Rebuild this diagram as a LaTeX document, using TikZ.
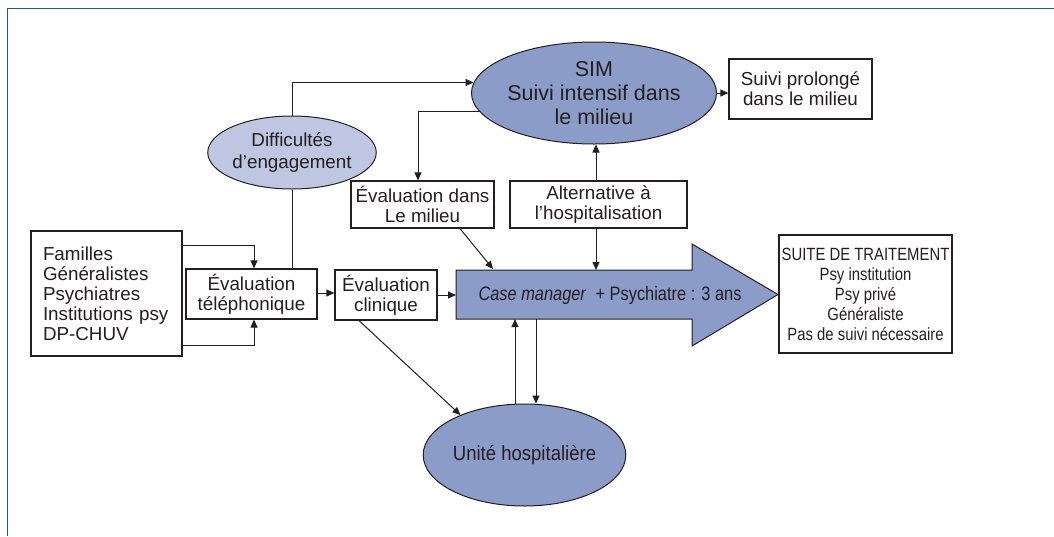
\documentclass[tikz,border=0pt]{standalone}
\usepackage{fontspec}
\setmainfont{Liberation Sans}
\newfontfamily\condfont[FakeStretch=0.9]{Liberation Sans}
\newfontfamily\narrowfont[FakeStretch=0.84]{Liberation Sans}
\usetikzlibrary{arrows.meta,shapes.geometric,calc}
\definecolor{txt}{RGB}{35,31,32}
\definecolor{darkfill}{RGB}{139,156,201}
\definecolor{lightfill}{RGB}{190,198,226}
\definecolor{framecol}{RGB}{30,85,160}
\tikzset{
  box/.style={draw=txt, line width=1.2pt, fill=white, inner sep=0pt, align=center,
     font=\fontsize{18.8}{20}\selectfont, text=txt},
  oval/.style={ellipse, draw=txt, line width=1pt, inner sep=0pt, align=center, text=txt},
  arr/.style={draw=txt, line width=1pt, -{Triangle[length=8pt,width=7pt]}},
  plain/.style={draw=txt, line width=1pt}
}
\begin{document}
\begin{tikzpicture}[x=1pt,y=-1pt]
\useasboundingbox (0,0) rectangle (1054,536);
% frame
\draw[framecol, line width=1.8pt] (7.5,536) -- (7.5,8.5) -- (1054,8.5);

% big arrow
\coordinate (shNW) at (456,270);
\coordinate (shSW) at (456,319);
\fill[darkfill, draw=txt, line width=1pt] (shNW) -- (692,270) -- (692,244) -- (778,294.5)
   -- (692,346) -- (692,319) -- (shSW) -- cycle;
\node[text=txt, font=\narrowfont\fontsize{19.5}{20}\selectfont, inner sep=0pt] (cm) at (610,295)
   {\textit{Case manager}\ \ + Psychiatre : 3 ans};

% boxes
\node[box, minimum width=151pt, minimum height=125pt, text width=127pt, inner xsep=12pt, align=left]
   (fam) at (106.5,293.5) {Familles\\G\'en\'eralistes\\Psychiatres\\Institutions~psy\\DP-CHUV};
\node[box, minimum width=131pt, minimum height=50pt] (tel) at (251.5,294) {\'Evaluation\\t\'el\'ephonique};
\node[box, minimum width=102pt, minimum height=50pt] (clin) at (386,295) {\'Evaluation\\clinique};
\node[box, minimum width=143pt, minimum height=47pt] (mil) at (422.5,204.5) {\'Evaluation dans\\Le milieu};
\node[box, minimum width=177pt, minimum height=47pt] (alt) at (598.5,204.5) {Alternative \`a\\l'hospitalisation};
\node[box, minimum width=143pt, minimum height=60pt] (pro) at (800.5,89) {Suivi prolong\'e\\dans le milieu};
\node[box, minimum width=173pt, minimum height=118pt, font=\narrowfont\fontsize{17.7}{20}\selectfont]
   (suite) at (865.5,294) {SUITE DE TRAITEMENT\\Psy institution\\Psy priv\'e\\G\'en\'eraliste\\Pas de suivi n\'ecessaire};

% ellipses
\node[oval, fill=lightfill, minimum width=150pt, minimum height=73pt,
   font=\fontsize{18.8}{22}\selectfont] (diff) at (292,152.5) {Difficult\'es\\d'engagement};
\node[oval, fill=darkfill, minimum width=218pt, minimum height=102pt,
   font=\fontsize{21.5}{24}\selectfont] (sim) at (594,93) {SIM\\Suivi intensif dans\\le milieu};
\node[oval, fill=darkfill, minimum width=165pt, minimum height=102pt,
   font=\condfont\fontsize{20.6}{22}\selectfont] (unite) at (524.5,455) {Unit\'e hospitali\`ere};

% connectors
\draw[arr] (fam.east |- 0,245) -| ([xshift=2.5pt]tel.north);
\draw[arr] (fam.east |- 0,345.5) -| ([xshift=2.5pt]tel.south);
\draw[plain] ([xshift=40.5pt]tel.north) -- (diff.south);
\draw[arr] (diff.north) |- (sim.175);
\draw[arr] (sim.189) -| ([xshift=-4.5pt]mil.north);
\draw[arr] ([xshift=-2.5pt]alt.north) -- ([xshift=-2.5pt]alt.north |- sim.south);
\draw[arr] ([xshift=-2.5pt]alt.south) -- ([xshift=-2.5pt]alt.south |- shNW);
\draw[arr] ([xshift=37.5pt]mil.south) -- (493,269);
\draw[arr] (sim.east) -- (sim.east -| pro.west);
\draw[arr] (tel.east |- 0,293) -- (clin.west |- 0,293);
\draw[arr] (clin.east) -- (clin.east -| shNW);
\draw[arr] ([xshift=-27pt]clin.south) -- (unite.148);
\draw[arr] ([xshift=-9.5pt]unite.north) -- ([xshift=-9.5pt]unite.north |- shSW);
\draw[arr] ([xshift=11.5pt]unite.north |- shSW) -- ([xshift=11.5pt]unite.north);
\end{tikzpicture}
\end{document}
